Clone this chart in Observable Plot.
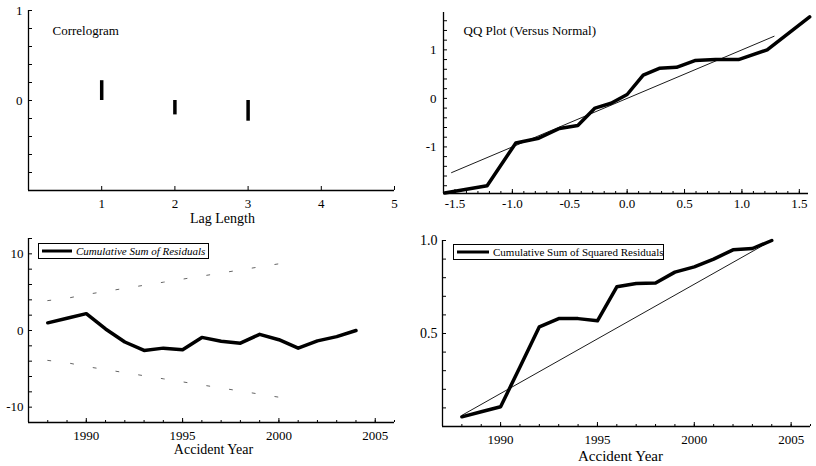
<!DOCTYPE html>
<html>
<head>
<meta charset="utf-8">
<script src="https://cdn.jsdelivr.net/npm/d3@7"></script>
<script src="https://cdn.jsdelivr.net/npm/@observablehq/plot@0.6"></script>
<style>
  body { margin: 0; background: #fff; }
  #wrap { position: relative; width: 816px; height: 466px; background: #fff;
          font-family: "Liberation Serif", "Times New Roman", serif; color: #000; }
  .panel { position: absolute; width: 408px; height: 233px; }
  .legend { position: absolute; border: 1px solid #000; background: #fff; height: 14px;
            display: flex; align-items: center; font-size: 11px; white-space: nowrap; }
  .legend svg { flex: none; }
</style>
</head>
<body>
<div id="wrap">
  <div class="panel" id="p1" style="left:0;top:0"></div>
  <div class="panel" id="p2" style="left:408px;top:0"></div>
  <div class="panel" id="p3" style="left:0;top:233px"></div>
  <div class="panel" id="p4" style="left:408px;top:233px"></div>
  <div class="legend" id="leg3" style="left:38px;top:243px;width:169px;"></div>
  <div class="legend" id="leg4" style="left:453px;top:244px;width:209px;"></div>
</div>
<script>
// ---------- data ----------
const lags = [1, 2, 3];
const acf = [0.22, -0.16, -0.23];
const lagTicks = [1, 2, 3, 4, 5];

const qqTheoretical = [-1.59, -1.22, -0.97, -0.77, -0.59, -0.43, -0.28, -0.14, 0, 0.14, 0.28, 0.43, 0.59, 0.77, 0.97, 1.22, 1.59];
const qqSample      = [-1.95, -1.80, -0.92, -0.82, -0.62, -0.56, -0.20, -0.10, 0.08, 0.48, 0.62, 0.64, 0.78, 0.80, 0.80, 1.00, 1.68];
const qqRefX = [-1.53, 1.28];
const qqRefY = [-1.53, 1.28];
const qqXTicks = [-1.5, -1.0, -0.5, 0.0, 0.5, 1.0, 1.5];
const qqYTicks = [-1, 0, 1];

const years = [1988, 1989, 1990, 1991, 1992, 1993, 1994, 1995, 1996, 1997, 1998, 1999, 2000, 2001, 2002, 2003, 2004];
const cusum = [1.0, 1.6, 2.2, 0.2, -1.5, -2.6, -2.3, -2.5, -0.9, -1.4, -1.65, -0.5, -1.2, -2.3, -1.35, -0.8, 0.0];
const boundYears = [1988, 1989, 1990, 1991, 1992, 1993, 1994, 1995, 1996, 1997, 1998, 1999, 2000];
const cusumBound = [3.9, 4.2, 4.7, 5.1, 5.5, 5.9, 6.3, 6.7, 7.1, 7.5, 7.9, 8.3, 8.7];
const cusumSq = [0.052, 0.079, 0.106, 0.32, 0.536, 0.58, 0.58, 0.568, 0.751, 0.769, 0.772, 0.83, 0.858, 0.90, 0.95, 0.957, 1.0];
const sqRefYears = [1988, 2004];
const sqRefValues = [0.06, 1.0];
const yearTicks = [1990, 1995, 2000, 2005];
const cusumYTicks = [-10, 0, 10];
const sqYTicks = [0.5, 1.0];

const legend3Label = "Cumulative Sum of Residuals";
const legend4Label = "Cumulative Sum of Squared Residuals";

// ---------- helpers ----------
const FONT = "Liberation Serif, Times New Roman, serif";
const baseStyle = {fontFamily: FONT, fontSize: "13px", color: "#000", background: "#fff", overflow: "visible"};
const rangeStep = (a, b, s) => { const out = []; for (let v = a; v <= b + s / 1000; v += s) out.push(+v.toFixed(6)); return out; };

// ---------- panel 1: correlogram ----------
const acfData = lags.map((l, i) => ({lag: l, v: acf[i]}));
document.getElementById("p1").append(Plot.plot({
  width: 408, height: 233,
  marginLeft: 28, marginRight: 14, marginTop: 10, marginBottom: 43,
  x: {domain: [0, 5]},
  y: {domain: [-1, 1]},
  style: baseStyle,
  marks: [
    Plot.ruleX([0], {strokeWidth: 1.3}),
    Plot.ruleY([-1], {strokeWidth: 1.3}),
    Plot.axisY(rangeStep(-1, 1, 0.2), {tickSize: -4, tickFormat: () => "", label: null}),
    Plot.axisY([0, 1], {tickSize: 0, tickPadding: 6, tickFormat: d => String(d), fontSize: 13, label: null}),
    Plot.axisX(lagTicks, {tickSize: -4, tickFormat: () => "", label: null}),
    Plot.axisX(lagTicks, {tickSize: 0, tickPadding: 8, tickFormat: d => String(d), label: null, fontSize: 13}),
    Plot.ruleX(acfData, {x: "lag", y1: 0, y2: "v", strokeWidth: 3.5}),
    Plot.text(["Correlogram"], {frameAnchor: "top-left", dx: 24, dy: 15, textAnchor: "start", fontSize: 13}),
    Plot.text(["Lag Length"], {frameAnchor: "bottom", dx: 11, dy: 32, fontSize: 14})
  ]
}));

// ---------- panel 2: QQ plot ----------
const qqData = qqTheoretical.map((x, i) => ({x, y: qqSample[i]}));
const qqRef = qqRefX.map((x, i) => ({x, y: qqRefY[i]}));
document.getElementById("p2").append(Plot.plot({
  width: 408, height: 233,
  marginLeft: 35, marginRight: 8, marginTop: 12, marginBottom: 40,
  x: {domain: [-1.6, 1.58]},
  y: {domain: [-1.96, 1.77]},
  style: baseStyle,
  marks: [
    Plot.ruleX([-1.6], {strokeWidth: 1.3}),
    Plot.ruleY([-1.96], {strokeWidth: 1.3}),
    Plot.axisY(rangeStep(-1.8, 1.6, 0.2), {tickSize: -4, tickFormat: () => "", label: null}),
    Plot.axisY(qqYTicks, {tickSize: 0, tickPadding: 7, tickFormat: d => String(d), fontSize: 13, label: null}),
    Plot.axisX(rangeStep(-1.5, 1.5, 0.1), {tickSize: -2, tickFormat: () => "", label: null}),
    Plot.axisX(qqXTicks, {tickSize: -4, tickFormat: () => "", label: null}),
    Plot.axisX(qqXTicks, {tickSize: 0, tickPadding: 5, tickFormat: d => d.toFixed(1), label: null, fontSize: 13}),
    Plot.line(qqRef, {x: "x", y: "y", strokeWidth: 0.9}),
    Plot.line(qqData, {x: "x", y: "y", strokeWidth: 3.5, strokeLinejoin: "round", strokeLinecap: "round"}),
    Plot.text(["QQ Plot (Versus Normal)"], {frameAnchor: "top-left", dx: 20, dy: 13, textAnchor: "start", fontSize: 13})
  ]
}));

// ---------- panel 3: cumulative sum of residuals ----------
const cusumData = years.map((yr, i) => ({yr, v: cusum[i]}));
const upper = boundYears.map((yr, i) => ({yr, v: cusumBound[i]}));
const lower = boundYears.map((yr, i) => ({yr, v: -cusumBound[i]}));
document.getElementById("p3").append(Plot.plot({
  width: 408, height: 233,
  marginLeft: 28, marginRight: 14, marginTop: 5, marginBottom: 44,
  x: {domain: [1987, 2006]},
  y: {domain: [-12, 12]},
  style: baseStyle,
  marks: [
    Plot.ruleX([1987], {strokeWidth: 1.3}),
    Plot.ruleY([-12], {strokeWidth: 1.3}),
    Plot.axisY(rangeStep(-12, 12, 2), {tickSize: -4, tickFormat: () => "", label: null}),
    Plot.axisY(cusumYTicks, {tickSize: 0, tickPadding: 5, tickFormat: d => String(d), fontSize: 13, label: null}),
    Plot.axisX(rangeStep(1988, 2006, 1), {tickSize: -2, tickFormat: () => "", label: null}),
    Plot.axisX(yearTicks, {tickSize: -4, tickFormat: () => "", label: null}),
    Plot.axisX(yearTicks, {tickSize: 0, tickPadding: 8, tickFormat: d => String(d), label: null, fontSize: 13}),
    Plot.line(upper, {x: "yr", y: "v", stroke: "#666", strokeWidth: 1, strokeDasharray: "3,20"}),
    Plot.line(lower, {x: "yr", y: "v", stroke: "#666", strokeWidth: 1, strokeDasharray: "3,20"}),
    Plot.line(cusumData, {x: "yr", y: "v", strokeWidth: 3.5, strokeLinejoin: "round", strokeLinecap: "round"}),
    Plot.text(["Accident Year"], {frameAnchor: "bottom", dx: 2, dy: 31, fontSize: 14})
  ]
}));

// ---------- panel 4: cumulative sum of squared residuals ----------
const sqData = years.map((yr, i) => ({yr, v: cusumSq[i]}));
const sqRef = sqRefYears.map((yr, i) => ({yr, v: sqRefValues[i]}));
document.getElementById("p4").append(Plot.plot({
  width: 408, height: 233,
  marginLeft: 34, marginRight: 6, marginTop: 7, marginBottom: 40,
  x: {domain: [1987, 2006]},
  y: {domain: [0, 1]},
  style: baseStyle,
  marks: [
    Plot.ruleX([1987], {strokeWidth: 1.3}),
    Plot.ruleY([0], {strokeWidth: 1.3}),
    Plot.axisY(rangeStep(0.1, 1, 0.1), {tickSize: -4, tickFormat: () => "", label: null}),
    Plot.axisY(sqYTicks, {tickSize: 0, tickPadding: 5, tickFormat: d => d.toFixed(1), fontSize: 14, label: null}),
    Plot.axisX(rangeStep(1988, 2006, 1), {tickSize: -2, tickFormat: () => "", label: null}),
    Plot.axisX(yearTicks, {tickSize: -4, tickFormat: () => "", label: null}),
    Plot.axisX(yearTicks, {tickSize: 0, tickPadding: 8, tickFormat: d => String(d), label: null, fontSize: 13}),
    Plot.line(sqRef, {x: "yr", y: "v", strokeWidth: 0.9}),
    Plot.line(sqData, {x: "yr", y: "v", strokeWidth: 3.5, strokeLinejoin: "round", strokeLinecap: "round"}),
    Plot.text(["Accident Year"], {frameAnchor: "bottom", dx: -6, dy: 34, fontSize: 15})
  ]
}));

// ---------- legends ----------
function legend(id, label, italic, lineLen) {
  const el = document.getElementById(id);
  el.innerHTML = `<svg width="${lineLen + 6}" height="14"><line x1="3" x2="${lineLen + 3}" y1="7" y2="7" stroke="#000" stroke-width="3"/></svg>` +
    `<span style="font-style:${italic ? "italic" : "normal"};margin-left:1px">${label}</span>`;
}
legend("leg3", legend3Label, true, 30);
legend("leg4", legend4Label, false, 32);
</script>
</body>
</html>
